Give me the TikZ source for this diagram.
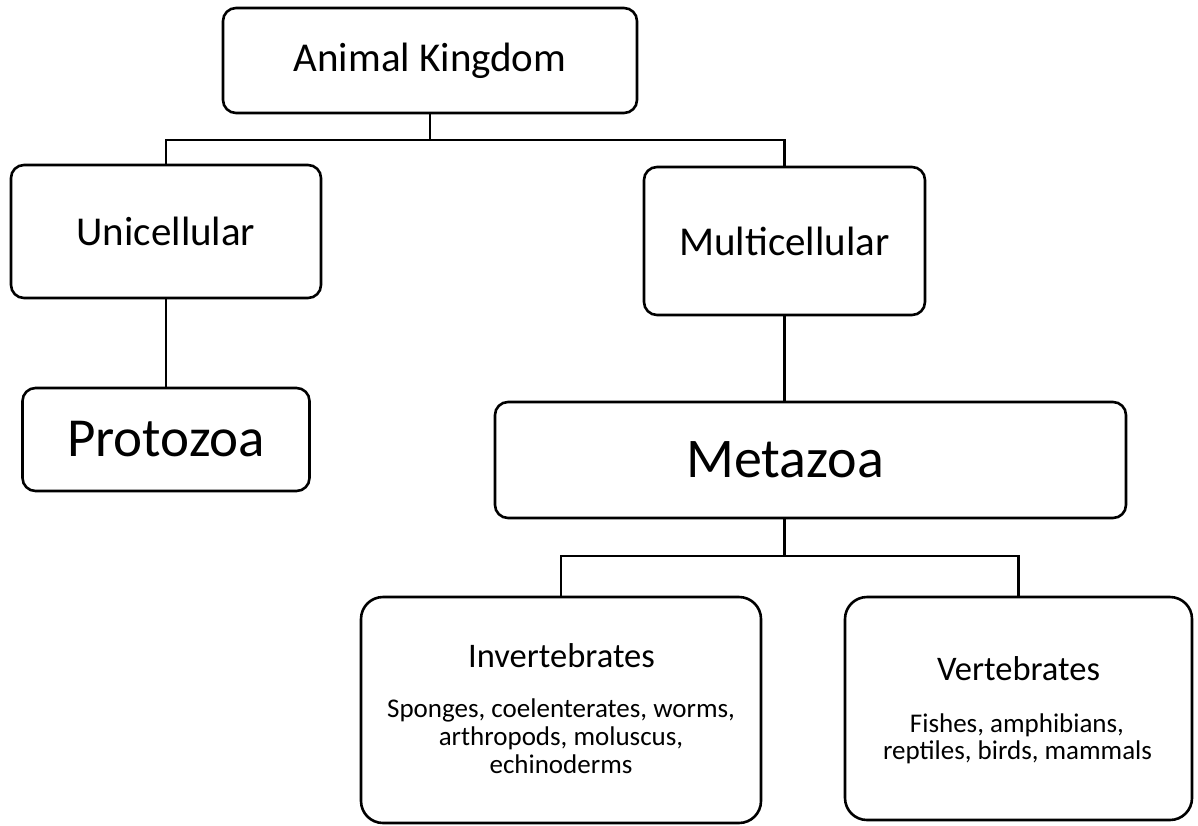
\documentclass[tikz,border=0pt]{standalone}
\usepackage{fontspec}
\setmainfont{Carlito}
\newcommand{\fs}[1]{\fontsize{#1}{#1}\selectfont}
\begin{document}
\begin{tikzpicture}[x=1pt,y=-1pt,
  box/.style={draw, line width=2.6pt, rounded corners=13pt, inner sep=0pt, align=center},
  bigbox/.style={box, rounded corners=22pt},
  ttl/.style={anchor=base, inner sep=0pt, font=\fs{34.5}},
  desc/.style={anchor=base, inner sep=0pt, font=\fs{27}},
  conn/.style={line width=2.6pt}]
\useasboundingbox (0,0) rectangle (1198,825);
\node[box, minimum width=414pt, minimum height=105pt, font=\fs{41}] (ak) at (430,60.5) {Animal Kingdom};
\node[box, minimum width=310pt, minimum height=133pt, font=\fs{41}] (uc) at (166,231.5) {Unicellular};
\node[box, minimum width=281pt, minimum height=148pt, font=\fs{41}] (mc) at (784.5,241) {Multicellular};
\node[box, minimum width=287pt, minimum height=103pt, font=\fs{55}] (pz) at (166,439.5) {Protozoa};
\node[box, minimum width=631pt, minimum height=116pt] (mz) at (810.5,460) {};
\node[font=\fs{56}, inner sep=0pt] (mzt) at (785,460) {Metazoa};
\node[bigbox, minimum width=400pt, minimum height=226pt] (iv) at (561,710) {};
\node[ttl] (ivt) at (561.5,667) {Invertebrates};
\node[desc] (iv1) at (561,717) {Sponges, coelenterates, worms,};
\node[desc] (iv2) at (561,745) {arthropods, moluscus,};
\node[desc] (iv3) at (561,773) {echinoderms};
\node[bigbox, minimum width=347pt, minimum height=223pt] (vt) at (1018.5,708.5) {};
\node[ttl] (vtt) at (1018.5,680) {Vertebrates};
\node[desc] (vt1) at (1017,732) {Fishes, amphibians,};
\node[desc] (vt2) at (1017.5,759) {reptiles, birds, mammals};
\coordinate (j1) at (430,140);
\coordinate (j2) at (784.5,556);
\draw[conn] (ak.south) -- (j1);
\draw[conn] (uc.north) |- (j1) -| (mc.north);
\draw[conn] (uc.south) -- (pz.north);
\draw[conn] (mc.south) -- (mc.south |- mz.north);
\draw[conn] (mc.south |- mz.south) -- (j2);
\draw[conn] (iv.north) |- (j2) -| (vt.north);
\end{tikzpicture}
\end{document}
